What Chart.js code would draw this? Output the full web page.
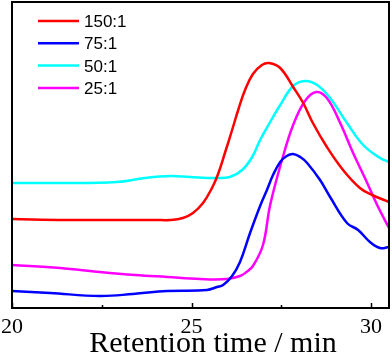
<!DOCTYPE html>
<html>
<head>
<meta charset="utf-8">
<script src="https://cdn.jsdelivr.net/npm/chart.js@4.4.0/dist/chart.umd.min.js"></script>
<style>
  html, body { margin: 0; padding: 0; background: #fff; }
  #wrap { width: 392px; height: 360px; }
</style>
</head>
<body>
<div id="wrap"><canvas id="gpcChart" width="392" height="360"></canvas></div>
<script>
// retention time (min) vs detector response (arbitrary units)
const redTime = [20.0, 21.5, 23.0, 24.0, 24.4, 24.76, 25.04, 25.32, 25.57, 25.74, 25.93, 26.13, 26.30, 26.49, 26.71, 26.96, 27.16, 27.47, 27.83, 28.11, 28.38, 28.77, 29.22, 29.69, 30.03, 30.5];
const redVal  = [89, 88, 88, 88, 88, 90, 95, 105, 120, 134, 155, 178, 198, 218, 234, 243, 245, 240, 221, 205, 185, 161, 138, 120, 113, 106];

const blueTime = [20.0, 21.06, 22.45, 23.37, 24.32, 25.43, 25.71, 25.88, 26.13, 26.35, 26.63, 26.91, 27.10, 27.27, 27.47, 27.65, 27.83, 28.03, 28.22, 28.58, 28.86, 29.33, 29.64, 29.97, 30.25, 30.5];
const blueVal  = [17, 15, 12, 14, 17, 18, 21, 23, 32, 46, 75, 102, 118, 133, 146, 152, 154, 151, 145, 128, 111, 85, 78, 66, 60, 61];

const cyanTime = [20.0, 21.34, 22.92, 23.70, 24.40, 24.96, 25.65, 26.07, 26.41, 26.69, 26.91, 27.19, 27.47, 27.83, 28.16, 28.50, 28.86, 29.33, 29.78, 30.25, 30.5];
const cyanVal  = [125, 125, 126, 130, 132, 131, 130, 131, 138, 151, 168, 186, 203, 222, 227, 223, 210, 185, 163, 150, 146];

const magTime = [20.0, 21.34, 22.45, 23.43, 24.32, 25.24, 25.99, 26.35, 26.53, 26.71, 26.99, 27.19, 27.52, 27.83, 28.16, 28.47, 28.77, 29.14, 29.50, 29.83, 30.17, 30.5];
const magVal  = [43, 40, 36, 33, 31, 29, 29, 32, 36, 42, 63, 103, 148, 183, 207, 216, 210, 185, 155, 130, 103, 80];

const seriesLabels = ["150:1", "75:1", "50:1", "25:1"];
const seriesColors = ["#ff0000", "#0000ff", "#00ffff", "#ff00ff"];
const xTicks = [20, 22.5, 25, 27.5, 30];
const xLabelTicks = [20, 25, 30];

function pts(t, v) {
  return t.map((x, i) => ({ x, y: v[i] }));
}

const allData = [pts(redTime, redVal), pts(blueTime, blueVal), pts(cyanTime, cyanVal), pts(magTime, magVal)];

// frame box, inward tick marks, legend and axis title
const decorPlugin = {
  id: "decor",
  afterDraw(chart) {
    const ctx = chart.ctx;
    const a = chart.chartArea;
    const xs = chart.scales.x;
    ctx.save();

    // inward ticks
    ctx.strokeStyle = "#000";
    ctx.lineWidth = 1.5;
    xTicks.forEach(v => {
      const px = Math.round(xs.getPixelForValue(v)) + 0.5;
      const len = xLabelTicks.includes(v) ? 5 : 3;
      ctx.beginPath();
      ctx.moveTo(px, a.bottom);
      ctx.lineTo(px, a.bottom - len);
      ctx.stroke();
    });

    // frame
    ctx.lineWidth = 2;
    ctx.strokeRect(a.left, a.top, a.right - a.left, a.bottom - a.top);

    // legend
    ctx.font = '17px "Liberation Sans", Arial, sans-serif';
    ctx.textBaseline = "alphabetic";
    ctx.textAlign = "left";
    chart.data.datasets.forEach((ds, i) => {
      const y = 21 + i * 22.3;
      ctx.strokeStyle = ds.borderColor;
      ctx.lineWidth = 2.5;
      ctx.beginPath();
      ctx.moveTo(38, y);
      ctx.lineTo(79, y);
      ctx.stroke();
      ctx.fillStyle = "#000";
      ctx.fillText(ds.label, 84, y + 6);
    });

    // axis title
    ctx.font = '30px "Liberation Serif", "Times New Roman", serif';
    ctx.textAlign = "center";
    ctx.fillText("Retention time / min", 213, 352);
    ctx.restore();
  }
};

const ctx = document.getElementById("gpcChart").getContext("2d");
new Chart(ctx, {
  type: "line",
  data: {
    datasets: allData.map((d, i) => ({
      label: seriesLabels[i],
      data: d,
      borderColor: seriesColors[i],
      borderWidth: 2.5,
      pointRadius: 0,
      fill: false,
      tension: 0.4
    }))
  },
  options: {
    responsive: false,
    animation: false,
    devicePixelRatio: 1,
    layout: { padding: { left: 12, right: 3, top: 2, bottom: 0 } },
    plugins: {
      legend: { display: false },
      tooltip: { enabled: false }
    },
    scales: {
      x: {
        type: "linear",
        min: 20,
        max: 30.5,
        afterBuildTicks: s => { s.ticks = xTicks.map(v => ({ value: v })); },
        afterFit: s => { s.height = 52; s.paddingLeft = 0; s.paddingRight = 0; },
        grid: { display: false, drawTicks: false },
        border: { display: false },
        ticks: {
          autoSkip: false,
          maxRotation: 0,
          padding: 6,
          color: "#000",
          font: { family: '"Liberation Serif", "Times New Roman", serif', size: 22 },
          callback: v => (xLabelTicks.includes(v) ? String(v) : "")
        }
      },
      y: {
        display: false,
        min: 0,
        max: 306
      }
    }
  },
  plugins: [decorPlugin]
});
</script>
</body>
</html>
